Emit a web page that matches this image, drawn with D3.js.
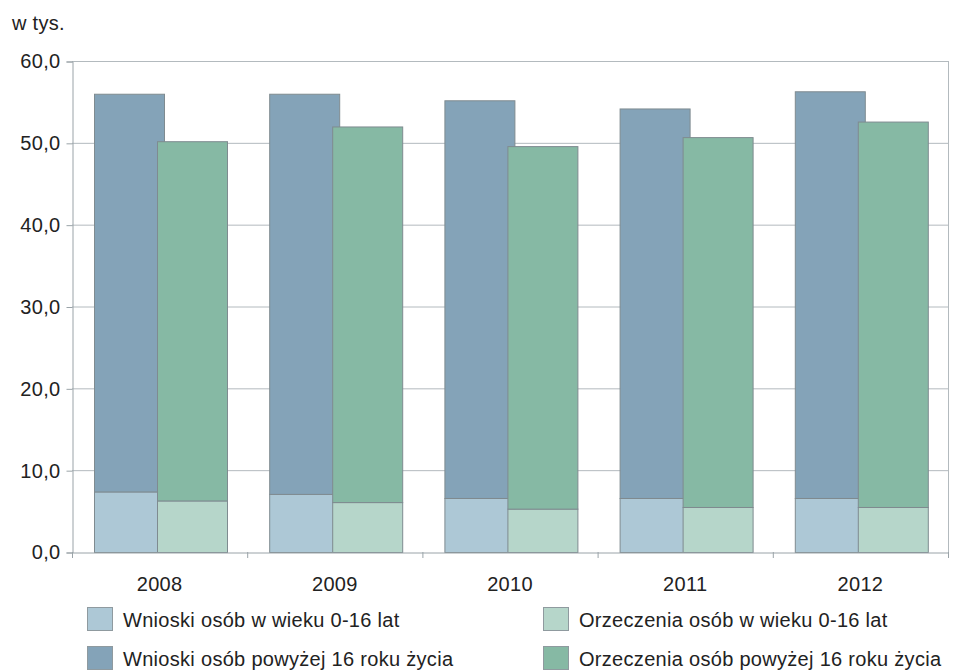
<!DOCTYPE html>
<html>
<head>
<meta charset="utf-8">
<script src="https://cdn.jsdelivr.net/npm/d3@7"></script>
<style>
  html, body { margin: 0; padding: 0; background: #fff; }
  svg text { font-family: "Liberation Sans", Arial, sans-serif; fill: #222; letter-spacing: 0.3px; }
</style>
</head>
<body>
<div id="chart"></div>
<script>
const years = ["2008", "2009", "2010", "2011", "2012"];
const wnioskiMlodsi = [7.4, 7.1, 6.6, 6.6, 6.6];
const wnioskiStarsi = [48.6, 48.9, 48.6, 47.6, 49.7];
const orzeczeniaMlodsi = [6.3, 6.1, 5.3, 5.5, 5.5];
const orzeczeniaStarsi = [43.9, 45.9, 44.3, 45.2, 47.1];
const yTicks = [0, 10, 20, 30, 40, 50, 60];
const legendLabels = [
    "Wnioski osób w wieku 0-16 lat",
    "Orzeczenia osób w wieku 0-16 lat",
    "Wnioski osób powyżej 16 roku życia",
    "Orzeczenia osób powyżej 16 roku życia"
];

const colors = {
    wLow: "#adc8d6",
    wHigh: "#84a3b8",
    oLow: "#b6d6ca",
    oHigh: "#86b9a4"
};

const width = 955, height = 671;
const margin = {top: 61, right: 7, bottom: 119, left: 72};
const fontSize = 20;

const svg = d3.select("#chart")
    .append("svg")
    .attr("width", width)
    .attr("height", height);

const x = d3.scaleBand()
    .domain(years)
    .range([margin.left, width - margin.right]);

const y = d3.scaleLinear()
    .domain([0, 60])
    .range([height - margin.bottom, margin.top]);

// Gridlines
svg.append("g")
    .selectAll("line")
    .data(yTicks.filter(d => d > 0))
    .enter().append("line")
    .attr("x1", margin.left)
    .attr("x2", width - margin.right)
    .attr("y1", d => y(d) + 0.5)
    .attr("y2", d => y(d) + 0.5)
    .attr("stroke", "#b3babe")
    .attr("stroke-width", 1);

// right border
svg.append("line")
    .attr("x1", width - margin.right + 0.5)
    .attr("x2", width - margin.right + 0.5)
    .attr("y1", y(60))
    .attr("y2", y(0))
    .attr("stroke", "#b3babe");

// Stacked bars: two groups per year, second overlapping the first a bit
const groups = [
    {low: wnioskiMlodsi, high: wnioskiStarsi, cLow: colors.wLow, cHigh: colors.wHigh, off: 22},
    {low: orzeczeniaMlodsi, high: orzeczeniaStarsi, cLow: colors.oLow, cHigh: colors.oHigh, off: 85}
];
const barW = 70;

groups.forEach(g => {
    const data = years.map((yr, i) => ({year: yr, low: g.low[i], high: g.high[i]}));
    const stack = d3.stack().keys(["low", "high"])(data);
    stack.forEach((layer, li) => {
        svg.append("g")
            .selectAll("rect")
            .data(layer)
            .enter().append("rect")
            .attr("x", d => x(d.data.year) + g.off + 0.5)
            .attr("y", d => y(d[1]) + 0.5)
            .attr("width", barW)
            .attr("height", d => y(d[0]) - y(d[1]))
            .attr("fill", li === 0 ? g.cLow : g.cHigh)
            .attr("stroke", "#7f8b90")
            .attr("stroke-width", 1);
    });
});

// Y axis
const yAxis = svg.append("g")
    .attr("transform", `translate(${margin.left + 0.5},0.5)`)
    .call(d3.axisLeft(y).tickValues(yTicks).tickSize(6).tickPadding(6)
        .tickFormat(d => d3.format(".1f")(d).replace(".", ",")));
yAxis.select(".domain").attr("stroke", "#9aa3a8");
yAxis.selectAll(".tick line").attr("stroke", "#9aa3a8");
yAxis.selectAll("text").attr("font-size", fontSize).attr("fill", "#222")
    .attr("font-family", "Liberation Sans, Arial, sans-serif");

// X axis
const xAxis = svg.append("g")
    .attr("transform", `translate(0,${height - margin.bottom + 0.5})`)
    .call(d3.axisBottom(x).tickSize(0).tickPadding(24));
xAxis.select(".domain").attr("stroke", "#9aa3a8");
xAxis.selectAll("text").attr("font-size", fontSize).attr("fill", "#222")
    .attr("font-family", "Liberation Sans, Arial, sans-serif");

// category separator ticks
svg.append("g")
    .selectAll("line")
    .data(years.concat(["end"]))
    .enter().append("line")
    .attr("x1", (d, i) => (i < years.length ? x(d) : x.range()[1]) + 0.5)
    .attr("x2", (d, i) => (i < years.length ? x(d) : x.range()[1]) + 0.5)
    .attr("y1", y(0))
    .attr("y2", y(0) + 6)
    .attr("stroke", "#9aa3a8");

// unit label
svg.append("text")
    .attr("x", 12)
    .attr("y", 30)
    .attr("font-size", fontSize)
    .text("w tys.");

// Legend
const legendColors = [colors.wLow, colors.oLow, colors.wHigh, colors.oHigh];
const legend = svg.append("g")
    .selectAll("g")
    .data(legendLabels)
    .enter().append("g")
    .attr("transform", (d, i) => `translate(${i % 2 === 0 ? 87 : 543},${i < 2 ? 607 : 646})`);

legend.append("rect")
    .attr("x", 0.5)
    .attr("y", 0.5)
    .attr("width", 25)
    .attr("height", 23)
    .attr("fill", (d, i) => legendColors[i])
    .attr("stroke", "#8f9a9f");

legend.append("text")
    .attr("x", 36)
    .attr("y", 20)
    .attr("font-size", fontSize)
    .text(d => d);
</script>
</body>
</html>
